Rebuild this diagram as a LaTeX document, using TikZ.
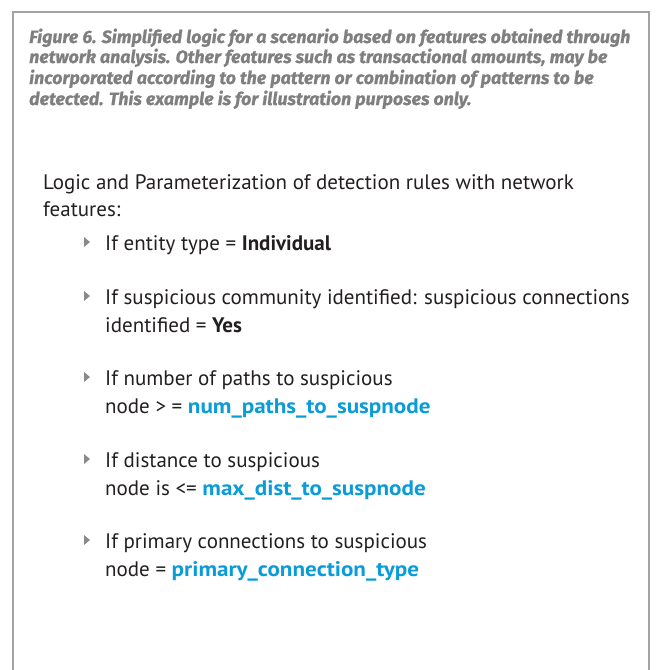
\documentclass[tikz,border=0pt]{standalone}
\usepackage{fontspec}
\setmainfont{PT Sans}
\newfontfamily\fuentetitulo[FakeBold=0.8]{Fira Sans}
\usetikzlibrary{positioning}
\definecolor{gristxt}{HTML}{7F7F7F}
\definecolor{grisborde}{HTML}{A3A3A3}
\definecolor{grisvin}{HTML}{8A8A8A}
\definecolor{azul}{HTML}{0A9CD8}
\definecolor{negro}{HTML}{231F20}
\tikzset{
  titulo/.style={anchor=base west, inner sep=0pt, text=gristxt, font=\fuentetitulo\fontsize{17.8}{20}\selectfont\bfseries\itshape},
  regla/.style={anchor=base west, inner sep=0pt, text=negro, font=\fontsize{21}{28}\selectfont},
}
\newcommand{\param}[1]{{\bfseries\addfontfeatures{FakeStretch=1.1}\textcolor{azul}{#1}}}

\begin{document}
\begin{tikzpicture}[x=1pt,y=-1pt]
\useasboundingbox (0,0) rectangle (656,670);
% Marco abierto por abajo
\draw[grisborde, line width=1.5pt] (13,670) -- (13,12) -- (649,12) -- (649,670);

% Pie de figura
\node[titulo] (t1) at (29,43) {Figure 6. Simplified logic for a scenario based on features obtained through};
\node[titulo] (t2) at (29,63) {network analysis. Other features such as transactional amounts, may be};
\node[titulo] (t3) at (29,84) {incorporated according to the pattern or combination of patterns to be};
\node[titulo] (t4) at (29,105) {detected. This example is for illustration purposes only.};

% Introduccion
\node[regla] (i1) at (43,189) {Logic and Parameterization of detection rules with network};
\node[regla] (i2) at (43,216) {features:};

% Reglas
\node[regla] (r1) at (105,250) {If entity type = \textbf{Individual}};
\node[regla] (r2a) at (105,304) {If suspicious community identified: suspicious connections};
\node[regla] (r2b) at (105,332) {identified = \textbf{Yes}};
\node[regla] (r3a) at (105,385) {If number of paths to suspicious};
\node[regla] (r3b) at (105,413) {node > = \param{num\_paths\_to\_suspnode}};
\node[regla] (r4a) at (105,467) {If distance to suspicious};
\node[regla] (r4b) at (105,495) {node is <= \param{max\_dist\_to\_suspnode}};
\node[regla] (r5a) at (105,548) {If primary connections to suspicious};
\node[regla] (r5b) at (105,576) {node = \param{primary\_connection\_type}};

% Vinietas
\foreach \y in {250,304,385,467,548}
  \fill[grisvin] (84,\y-13) -- (90,\y-8) -- (84,\y-3) -- cycle;
\end{tikzpicture}
\end{document}
